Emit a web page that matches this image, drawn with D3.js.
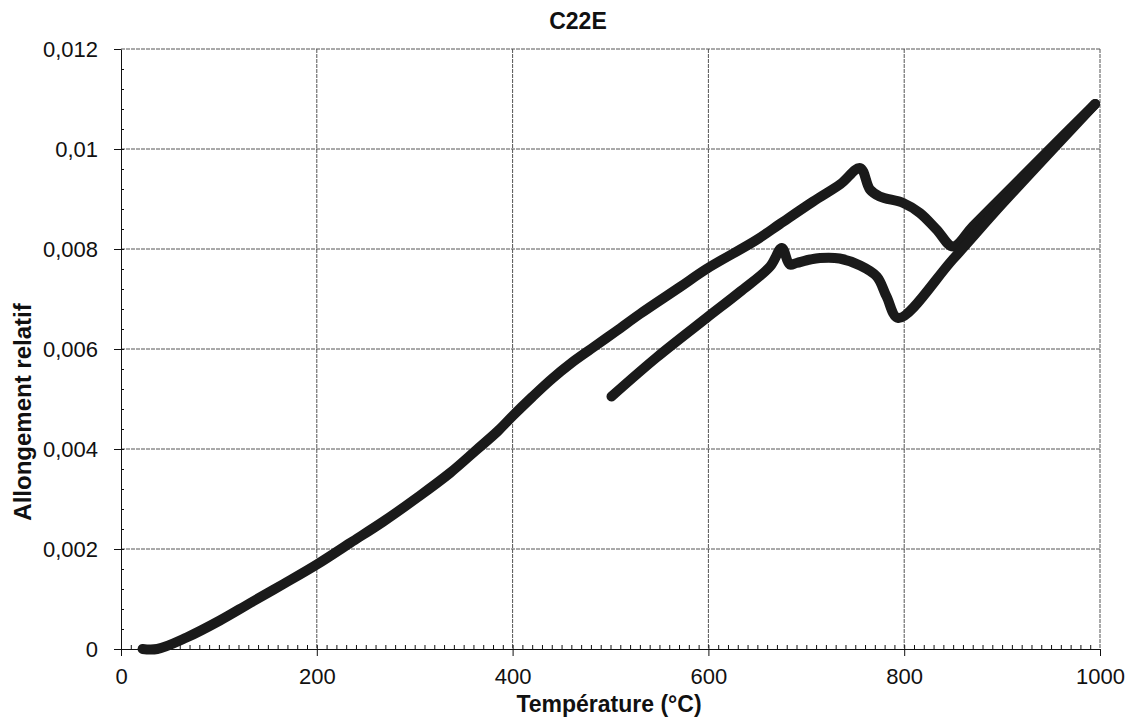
<!DOCTYPE html>
<html>
<head>
<meta charset="utf-8">
<script src="https://cdn.jsdelivr.net/npm/d3@7"></script>
<style>
  body { margin: 0; background: #fff; }
  text { font-family: "Liberation Sans", Arial, sans-serif; fill: #111; }
</style>
</head>
<body>
<div id="chart"></div>
<script>
// Heating branch (température °C, allongement relatif)
const heatT = [22, 37, 67, 101, 132, 166, 200, 234, 268, 302, 336, 363, 385, 400, 420, 440, 460, 480, 506, 530, 571, 598, 649, 673, 707, 735, 755, 765, 775, 799, 816, 833, 850, 870, 900, 930, 960, 995];
const heatV = [0, 0, 0.00023, 0.00057, 0.00092, 0.0013, 0.00169, 0.00212, 0.00255, 0.00302, 0.00352, 0.00398, 0.00436, 0.00466, 0.00504, 0.0054, 0.00572, 0.006, 0.00636, 0.0067, 0.00724, 0.0076, 0.00818, 0.0085, 0.00895, 0.0093, 0.00962, 0.00919, 0.00905, 0.00892, 0.00872, 0.00839, 0.00805, 0.00845, 0.00904, 0.00963, 0.01022, 0.0109];

// Cooling branch
const coolT = [995, 900, 850, 794, 782, 772, 755, 734, 714, 704, 690, 683, 675, 663, 632, 598, 547, 501];
const coolV = [0.0109, 0.0089, 0.0078, 0.00662, 0.00705, 0.00745, 0.00767, 0.00781, 0.00782, 0.00779, 0.00772, 0.00769, 0.00802, 0.00765, 0.00714, 0.00662, 0.00583, 0.00505];

const xTicks = [0, 200, 400, 600, 800, 1000];
const yTicks = [0, 0.002, 0.004, 0.006, 0.008, 0.01, 0.012];
const yLabels = ["0", "0,002", "0,004", "0,006", "0,008", "0,01", "0,012"];

const W = 1135, H = 723;
const margin = { top: 49, right: 35, bottom: 74, left: 121 };
const width = W - margin.left - margin.right;
const height = H - margin.top - margin.bottom;

const svg = d3.select("#chart").append("svg")
    .attr("width", W)
    .attr("height", H);

const g = svg.append("g")
    .attr("transform", `translate(${margin.left},${margin.top})`);

const x = d3.scaleLinear().domain([0, 1000]).range([0, width]);
const y = d3.scaleLinear().domain([0, 0.012]).range([height, 0]);

// grid
g.selectAll(".hgrid")
    .data(yTicks.filter(d => d > 0))
    .enter().append("line")
    .attr("x1", 0).attr("x2", width)
    .attr("y1", d => y(d)).attr("y2", d => y(d))
    .attr("stroke", "#555").attr("stroke-width", 1)
    .attr("stroke-dasharray", "4,1");

g.selectAll(".vgrid")
    .data(xTicks.filter(d => d > 0))
    .enter().append("line")
    .attr("y1", 0).attr("y2", height)
    .attr("x1", d => x(d)).attr("x2", d => x(d))
    .attr("stroke", "#555").attr("stroke-width", 1)
    .attr("stroke-dasharray", "4,1");

// minor ticks (inside)
g.append("g")
    .attr("transform", `translate(0,${height})`)
    .call(d3.axisTop(x).tickValues(d3.range(10, 1000, 10)).tickSize(4).tickFormat(""))
    .call(a => a.select(".domain").remove())
    .selectAll("line").attr("stroke", "#222");

g.append("g")
    .call(d3.axisRight(y).tickValues(d3.range(1, 30).map(i => i * 0.0004)).tickSize(3).tickFormat(""))
    .call(a => a.select(".domain").remove())
    .selectAll("line").attr("stroke", "#222");

// axes
const xAxis = g.append("g")
    .attr("transform", `translate(0,${height})`)
    .call(d3.axisBottom(x).tickValues(xTicks).tickSize(7).tickPadding(12).tickSizeOuter(0)
        .tickFormat(d3.format("d")));
xAxis.selectAll("text").style("font-size", "22px");

const yAxis = g.append("g")
    .call(d3.axisLeft(y).tickValues(yTicks).tickSize(7).tickPadding(16).tickSizeOuter(0)
        .tickFormat((d, i) => yLabels[i]));
yAxis.selectAll("text").style("font-size", "22px");

svg.selectAll(".domain, .tick line").attr("stroke", "#111");

// curves
const line = d3.line()
    .x(d => x(d[0]))
    .y(d => y(d[1]))
    .curve(d3.curveCatmullRom.alpha(0.5));

const heat = heatT.map((t, i) => [t, heatV[i]]);
const cool = coolT.map((t, i) => [t, coolV[i]]);

[heat, cool].forEach(data => {
    g.append("path")
        .datum(data)
        .attr("fill", "none")
        .attr("stroke", "#1a1a1a")
        .attr("stroke-width", 10)
        .attr("stroke-linejoin", "round")
        .attr("stroke-linecap", "round")
        .attr("d", line);
});

// titles
svg.append("text")
    .attr("x", 578).attr("y", 29)
    .attr("text-anchor", "middle")
    .style("font-size", "23px").style("font-weight", "bold")
    .text("C22E");

svg.append("text")
    .attr("x", 609).attr("y", 712)
    .attr("text-anchor", "middle")
    .style("font-size", "23px").style("font-weight", "bold")
    .text("Température (°C)");

svg.append("text")
    .attr("transform", "translate(31,412) rotate(-90)")
    .attr("text-anchor", "middle")
    .style("font-size", "24px").style("font-weight", "bold")
    .text("Allongement relatif");
</script>
</body>
</html>
